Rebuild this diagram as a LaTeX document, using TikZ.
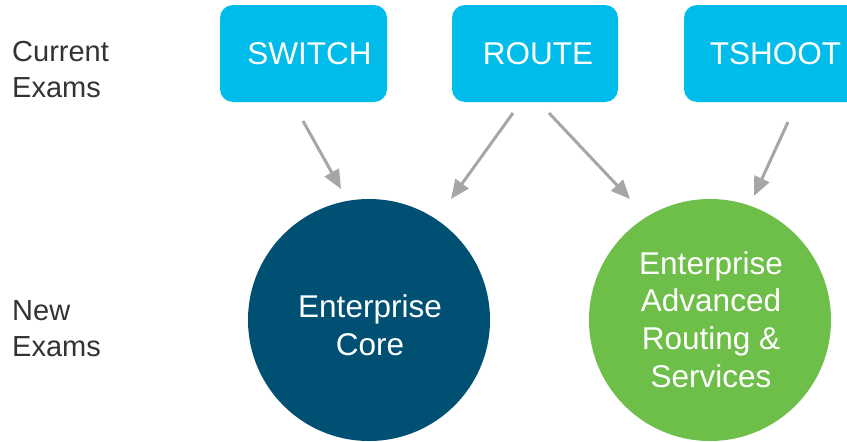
\documentclass[tikz,border=0pt]{standalone}
\usepackage{fontspec}
\setmainfont{Liberation Sans}
\usetikzlibrary{arrows.meta}
\definecolor{ciscocyan}{HTML}{00BCEB}
\definecolor{ciscodark}{HTML}{005073}
\definecolor{ciscogreen}{HTML}{6EBE4A}
\definecolor{arrowgray}{HTML}{A6A6A6}
\definecolor{labelgray}{HTML}{333333}
\begin{document}
\begin{tikzpicture}[x=1pt,y=-1pt,
  exambox/.style={fill=ciscocyan,rounded corners=13pt,minimum width=#1,minimum height=97pt,inner sep=0pt},
  boxtext/.style={text=white,inner sep=0pt,font=\fontsize{31.5}{36}\selectfont},
  examcircle/.style={circle,fill=#1,minimum size=242pt,inner sep=0pt},
  circletext/.style={text=white,align=center,inner sep=0pt,font=\fontsize{31.5}{37.7}\selectfont},
  rowlabel/.style={anchor=west,align=left,text=labelgray,inner sep=0pt,font=\fontsize{29}{36}\selectfont},
  flow/.style={draw=arrowgray,line width=3pt,-{Triangle[length=19pt,width=16pt]}}]
\useasboundingbox (0,0) rectangle (847,442);
\node[rowlabel] (cur) at (12,70) {Current\\Exams};
\node[rowlabel] (new) at (12,329) {New\\Exams};
\node[exambox=167pt] (sw) at (303.5,53.5) {};
\node[exambox=166pt] (rt) at (535,53.5) {};
\node[exambox=183pt] (ts) at (775.5,53.5) {};
\node[boxtext] (swt) at (309.5,53.5) {SWITCH};
\node[boxtext] (rtt) at (538,53.5) {ROUTE};
\node[boxtext] (tst) at (775.5,53.5) {TSHOOT};
\node[examcircle=ciscodark] (core) at (369,320) {};
\node[examcircle=ciscogreen] (ears) at (710,320) {};
\node[circletext] (coret) at (370,325.5) {Enterprise\\Core};
\node[circletext] (earst) at (711,319.5) {Enterprise\\Advanced\\Routing \&\\Services};
\coordinate (a1s) at (303,121); \coordinate (a1e) at (341,189);
\coordinate (a2s) at (513,113); \coordinate (a2e) at (451,199);
\coordinate (a3s) at (549,113); \coordinate (a3e) at (630,199);
\coordinate (a4s) at (788,122); \coordinate (a4e) at (754,196);
\draw[flow] (a1s) -- (a1e);
\draw[flow] (a2s) -- (a2e);
\draw[flow] (a3s) -- (a3e);
\draw[flow] (a4s) -- (a4e);
\end{tikzpicture}
\end{document}
